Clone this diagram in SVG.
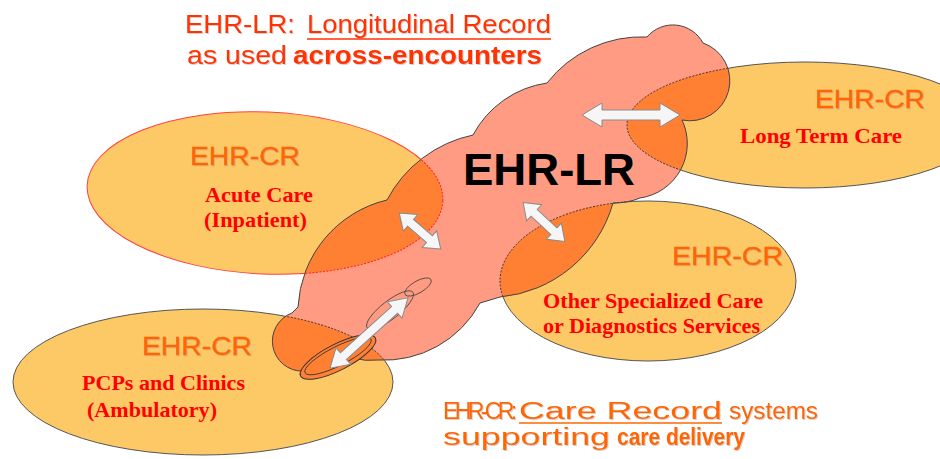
<svg xmlns="http://www.w3.org/2000/svg" width="940" height="459" viewBox="0 0 940 459">
<style>
.cr{fill:#FDC866;stroke:#555;stroke-width:1}
.cr-acute{stroke:#FF4040}
.lbl{font-family:"Liberation Sans",Arial,sans-serif;font-size:25px;fill:#FF6600;stroke:#FF6600;stroke-width:0.4;filter:url(#shadow)}
.srf{font-family:"Liberation Serif","Times New Roman",serif;font-weight:bold;font-size:21px;fill:#FF0000}
.t1{font-family:"Liberation Sans",Arial,sans-serif;font-size:25px;fill:#FF3300;filter:url(#shadow)}
.t2{font-family:"Liberation Sans",Arial,sans-serif;font-size:23px;fill:#FF6600;filter:url(#shadow)}
.b{font-weight:bold}
.arrow{fill:#F6F6F6;stroke:#8A8A8A;stroke-width:1;stroke-linejoin:miter}
.dot{fill:none;stroke-width:1;stroke-dasharray:2 1.5}
</style>
<defs>
<filter id="shadow" x="-5%" y="-20%" width="110%" height="140%">
<feDropShadow dx="1" dy="1" stdDeviation="0.3" flood-color="#B09080" flood-opacity="0.45"/>
</filter>
<path id="cloudShape" d="M473,135 A100,100 0 0 1 547,83 A120,120 0 0 1 647,37 A34,34 0 0 1 703,43 A40,40 0 0 1 682,120 A55,55 0 0 1 640,198 Q628,203 613,203 A130,130 0 0 1 500,297 L480,303 A109,109 0 0 1 378,360 A60,60 0 0 1 332,346 A30,30 0 1 1 292,313 L298,307 A116,116 0 0 1 387,200 A127,127 0 0 1 473,135 Z"/>
<clipPath id="crClip">
<ellipse cx="265" cy="193" rx="178" ry="81" transform="rotate(2.5 265 193)"/>
<ellipse cx="805" cy="125" rx="178" ry="63"/>
<ellipse cx="648" cy="281" rx="148" ry="80"/>
<ellipse cx="203" cy="382" rx="190" ry="73"/>
</clipPath>
<clipPath id="cloudClip"><use href="#cloudShape"/></clipPath>
</defs>

<rect x="0" y="0" width="940" height="459" fill="#FFFFFF"/>

<g id="acute-care">
<ellipse class="cr cr-acute" cx="265" cy="193" rx="178" ry="81" transform="rotate(2.5 265 193)"/>
<text class="lbl" x="190" y="165" textLength="110" lengthAdjust="spacingAndGlyphs">EHR-CR</text>
<text class="srf" x="205" y="202" textLength="108" lengthAdjust="spacingAndGlyphs">Acute Care</text>
<text class="srf" x="204" y="227" textLength="103" lengthAdjust="spacingAndGlyphs">(Inpatient)</text>
</g>

<g id="long-term-care">
<ellipse class="cr" cx="805" cy="125" rx="178" ry="63"/>
<text class="lbl" x="815" y="108" textLength="110" lengthAdjust="spacingAndGlyphs">EHR-CR</text>
<text class="srf" x="740" y="143" textLength="162" lengthAdjust="spacingAndGlyphs">Long Term Care</text>
</g>

<g id="specialized-care">
<ellipse class="cr" cx="648" cy="281" rx="148" ry="80"/>
<text class="lbl" x="672" y="265" textLength="111" lengthAdjust="spacingAndGlyphs">EHR-CR</text>
<text class="srf" x="543" y="308" textLength="220" lengthAdjust="spacingAndGlyphs">Other Specialized Care</text>
<text class="srf" x="543" y="333" textLength="217" lengthAdjust="spacingAndGlyphs">or Diagnostics Services</text>
</g>

<g id="pcps-clinics">
<ellipse class="cr" cx="203" cy="382" rx="190" ry="73"/>
<text class="lbl" x="142" y="355" textLength="110" lengthAdjust="spacingAndGlyphs">EHR-CR</text>
<text class="srf" x="82" y="390" textLength="163" lengthAdjust="spacingAndGlyphs">PCPs and Clinics</text>
<text class="srf" x="87" y="417" textLength="130" lengthAdjust="spacingAndGlyphs">(Ambulatory)</text>
</g>

<g id="ehr-lr">
<use href="#cloudShape" fill="#FF9B82"/>
<use href="#cloudShape" fill="#FF8033" clip-path="url(#crClip)"/>
<g clip-path="url(#cloudClip)">
<ellipse class="dot" stroke="#FF2020" cx="265" cy="193" rx="178" ry="81" transform="rotate(2.5 265 193)"/>
<ellipse class="dot" stroke="#333" cx="805" cy="125" rx="178" ry="63"/>
<ellipse class="dot" stroke="#333" cx="648" cy="281" rx="148" ry="80"/>
<ellipse class="dot" stroke="#333" cx="203" cy="382" rx="190" ry="73"/>
</g>
<use href="#cloudShape" fill="none" stroke="#444" stroke-width="1"/>
<text x="463" y="185" textLength="172" lengthAdjust="spacingAndGlyphs" font-family="Liberation Sans, Arial, sans-serif" font-weight="bold" font-size="44" fill="#000">EHR-LR</text>
</g>

<g id="connectors">
<ellipse cx="338" cy="357" rx="42" ry="13" transform="rotate(-27 338 357)" fill="#FF8033" stroke="#333" stroke-width="1"/>
<ellipse cx="338" cy="356" rx="37" ry="9.5" transform="rotate(-27 338 356)" fill="none" stroke="#333" stroke-width="0.8"/>
<ellipse cx="390" cy="310" rx="29" ry="9" transform="rotate(-38 390 310)" fill="none" stroke="#444" stroke-width="0.8"/>
<ellipse cx="418" cy="287" rx="15" ry="6" transform="rotate(-30 418 287)" fill="none" stroke="#444" stroke-width="0.8"/>
<polygon class="arrow" transform="translate(631,115)" points="-49,0 -29,-12 -29,-5 29,-5 29,-12 49,0 29,12 29,5 -29,5 -29,12"/>
<polygon class="arrow" transform="translate(420,231) rotate(41)" points="-27.5,0 -12.5,-11 -12.5,-4.5 12.5,-4.5 12.5,-11 27.5,0 12.5,11 12.5,4.5 -12.5,4.5 -12.5,11"/>
<polygon class="arrow" transform="translate(544,222) rotate(43)" points="-28.5,0 -13.5,-11 -13.5,-4.5 13.5,-4.5 13.5,-11 28.5,0 13.5,11 13.5,4.5 -13.5,4.5 -13.5,11"/>
<polygon class="arrow" transform="translate(369,333) rotate(-42)" points="-52.5,0 -34.5,-11 -34.5,-4.5 34.5,-4.5 34.5,-11 52.5,0 34.5,11 34.5,4.5 -34.5,4.5 -34.5,11"/>
</g>

<g id="title-lr">
<text class="t1" y="33"><tspan x="185" textLength="110" lengthAdjust="spacingAndGlyphs">EHR-LR:</tspan><tspan x="307" textLength="244" lengthAdjust="spacingAndGlyphs">Longitudinal Record</tspan></text>
<line x1="307" y1="39" x2="551" y2="39" stroke="#FF3300" stroke-width="1.5"/>
<text class="t1" y="64"><tspan x="187" textLength="100" lengthAdjust="spacingAndGlyphs">as used</tspan><tspan class="b" x="293" textLength="249" lengthAdjust="spacingAndGlyphs">across-encounters</tspan></text>
</g>

<g id="title-cr">
<text class="t2" y="419"><tspan x="443" letter-spacing="-3.6">EHR-CR:</tspan><tspan x="519" textLength="203" lengthAdjust="spacingAndGlyphs">Care Record</tspan><tspan x="729" textLength="89" lengthAdjust="spacingAndGlyphs">systems</tspan></text>
<line x1="519" y1="423" x2="722" y2="423" stroke="#FF6600" stroke-width="1.5"/>
<text class="t2" y="445"><tspan x="443" textLength="167" lengthAdjust="spacingAndGlyphs">supporting</tspan><tspan class="b" x="617" textLength="128" lengthAdjust="spacingAndGlyphs">care delivery</tspan></text>
</g>
</svg>
